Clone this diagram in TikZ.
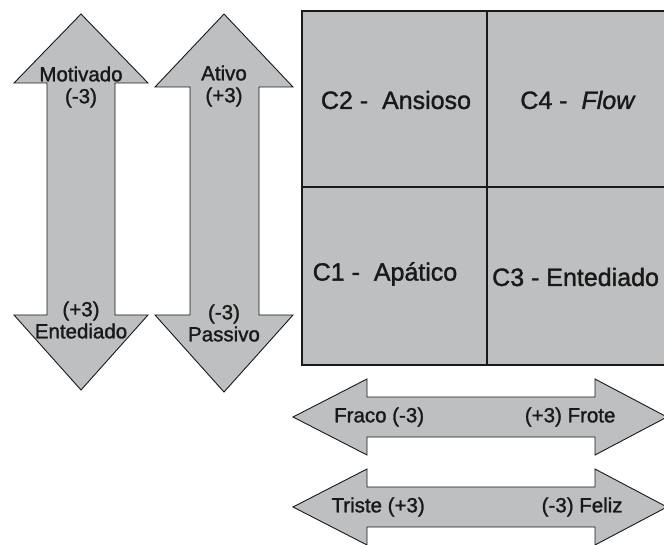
\documentclass[tikz,border=0pt]{standalone}
\usepackage{fontspec}
\setmainfont{Liberation Sans}
\newfontfamily\lblfont{Liberation Sans}[FakeBold=1.4]
\usepackage{tikz}
\usetikzlibrary{positioning}

\definecolor{boxgray}{RGB}{190,191,193}
\definecolor{inkgray}{RGB}{25,25,25}

\begin{document}
\begin{tikzpicture}[x=1pt, y=-1pt,
    shapebox/.style = { draw = inkgray, fill = boxgray, line width = .9pt, line join = miter },
    gridline/.style = { draw = black!90, line width = 2.6pt },
    small/.style = { inner sep = 0pt, align = center, text = inkgray,
                     font = \lblfont\fontsize{20.5}{22}\selectfont },
    big/.style = { inner sep = 0pt, text = inkgray,
                   font = \lblfont\fontsize{25}{27}\selectfont }]
  \useasboundingbox (0,0) rectangle (664,545);
  \clip (0,0) rectangle (664,545);

  % vertical arrows
  \draw[shapebox] (81,14) -- (148,83) -- (115,83) -- (115,315) -- (148,315)
    -- (81,390) -- (14,315) -- (47,315) -- (47,83) -- (14,83) -- cycle;
  \draw[shapebox] (224,14) -- (293,87) -- (259,87) -- (259,315) -- (293,315)
    -- (224,392) -- (155,315) -- (190,315) -- (190,87) -- (155,87) -- cycle;

  % horizontal arrows
  \draw[shapebox] (293,417) -- (367,379) -- (367,397) -- (595,397) -- (595,379)
    -- (667,417) -- (595,455) -- (595,437) -- (367,437) -- (367,455) -- cycle;
  \draw[shapebox] (293,507) -- (367,469) -- (367,487) -- (595,487) -- (595,469)
    -- (667,507) -- (595,545) -- (595,527) -- (367,527) -- (367,545) -- cycle;

  % quadrants
  \fill[boxgray] (302,11) rectangle (668,365);
  \draw[gridline] (302,11) rectangle (668,365);
  \draw[gridline] (487,11) -- (487,365);
  \draw[gridline] (302,187) -- (668,187);

  \node[small] (motivado) at (81,87) { Motivado \\ (-3) };
  \node[small] (entediado) at (81,320) { (+3) \\ Entediado };
  \node[small] (ativo) at (224,86) { Ativo \\ (+3) };
  \node[small] (passivo) at (224,323) { (-3) \\ Passivo };

  \node[big] (ansioso) at (396,100) { C2 -\ \ Ansioso };
  \node[big] (flow) at (578,100) { C4 -\ \ \textit{Flow} };
  \node[big] (apatico) at (385,274) { C1 -\ \ Apático };
  \node[big, anchor = west] (entedC) at (492,277) { C3 - Entediado };

  \node[small] (fraco) at (382,417) { Fraco (-3) };
  \node[small] (frote) at (573,417) { (+3) Frote };
  \node[small] (triste) at (381,507) { Triste (+3) };
  \node[small] (feliz) at (585,507) { (-3) Feliz };
\end{tikzpicture}
\end{document}
